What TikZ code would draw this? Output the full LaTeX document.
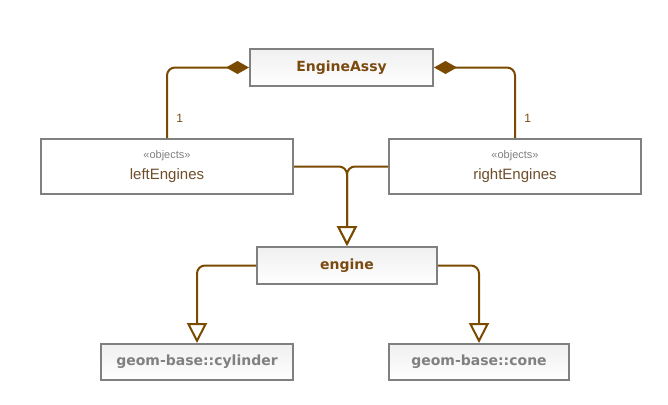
\documentclass[tikz,border=0pt]{standalone}
\usepackage{fontspec}
\setmainfont{Liberation Sans}
\newfontfamily\clsfont{DejaVu Sans}
\usetikzlibrary{positioning,arrows.meta}
\definecolor{umlbrown}{HTML}{7A4A00}
\definecolor{umltext}{HTML}{7A4A10}
\definecolor{umlname}{HTML}{6E4E2A}
\definecolor{umlgray}{HTML}{808080}
\tikzset{
  cls/.style={draw=umlgray,line width=2pt,top color=gray!12,bottom color=white,
    inner sep=0pt,font=\clsfont\fontsize{14}{16}\selectfont\bfseries,text=umltext},
  base/.style={cls,text=umlgray},
  objs/.style={draw=umlgray,line width=2pt,fill=white,inner sep=0pt,align=center,
    minimum width=252pt,minimum height=55pt,text=umlname,font=\fontsize{15}{18}\selectfont},
  comp/.style={draw=umlbrown,line width=2pt,rounded corners=8pt,
    {Diamond[length=23pt,width=13pt,fill=umlbrown]}-},
  gen/.style={draw=umlbrown,line width=2pt,rounded corners=8pt,
    -{Triangle[open,length=20pt,width=20pt,fill=white]}},
  mult/.style={font=\fontsize{12}{14}\selectfont,text=umltext}
}
\newcommand*{\stereo}[1]{{\fontsize{11}{13}\selectfont\color{umlgray}«#1»}}
\begin{document}
\begin{tikzpicture}[x=1pt,y=-1pt]
\useasboundingbox (0,0) rectangle (668,404);
\node[cls,minimum width=183pt,minimum height=37pt] (assy) at (341.5,67.5) {EngineAssy};
\node[objs] (left) at (167,166.5) {\stereo{objects}\\[3pt]leftEngines};
\node[objs] (right) at (515,166.5) {\stereo{objects}\\[3pt]rightEngines};
\node[cls,minimum width=180pt,minimum height=37pt] (engine) at (347,265.5) {engine};
\node[base,minimum width=192pt,minimum height=36pt] (cyl) at (197,362) {geom-base::cylinder};
\node[base,minimum width=180pt,minimum height=36pt] (cone) at (479,362) {geom-base::cone};
% composition
\draw[comp] (assy.west) -| node[mult,pos=0.86,right,xshift=5pt] {1} (left.north);
\draw[comp] (assy.east) -| node[mult,pos=0.86,right,xshift=5pt] {1} (right.north);
% generalisation
\draw[gen] (left.east) -| (engine.north);
\draw[gen] (right.west) -| (engine.north);
\draw[gen] (engine.west) -| (cyl.north);
\draw[gen] (engine.east) -| (cone.north);
\end{tikzpicture}
\end{document}
